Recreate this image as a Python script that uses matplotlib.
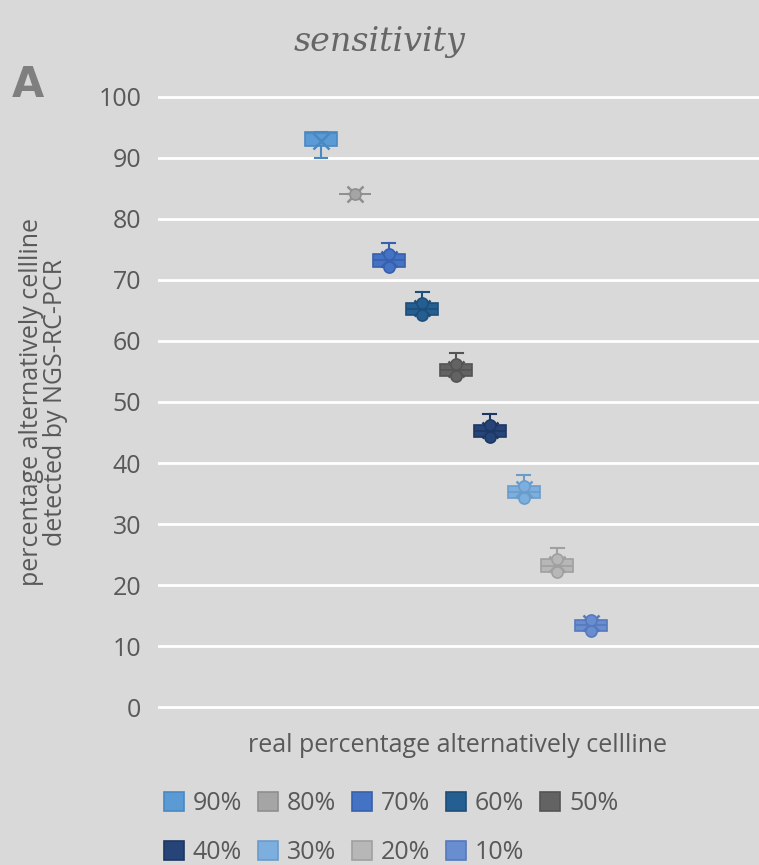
import numpy as np
import matplotlib.pyplot as plt
from matplotlib.patches import Patch

# series (real percentage) and box statistics
labels = ['90%', '80%', '70%', '60%', '50%', '40%', '30%', '20%', '10%']
colors = ['#5b9bd5', '#a5a5a5', '#4472c4', '#255e91', '#636363',
          '#264478', '#7cafdd', '#b7b7b7', '#698ed0']
edges = ['#4a88c2', '#8f8f8f', '#3760ad', '#1d4e7b', '#545454',
         '#1c3763', '#6a9ccb', '#a0a0a0', '#5679bd']
whislo = [90.0, 84.0, 72.1, 64.2, 54.2, 44.2, 34.2, 22.2, 12.4]
q1 = [92.0, 84.0, 72.1, 64.2, 54.2, 44.2, 34.2, 22.2, 12.4]
med = [94.1, 84.0, 73.2, 65.2, 55.2, 45.2, 35.2, 23.2, 13.4]
q3 = [94.2, 84.0, 74.2, 66.3, 56.3, 46.3, 36.3, 24.2, 14.3]
whishi = [94.2, 84.0, 76.1, 68.1, 58.1, 48.1, 38.1, 26.1, 14.3]
means = [92.8, 84.0, 73.4, 65.4, 55.4, 45.4, 35.8, 23.4, 13.8]
points = [[], [84.0], [72.1, 74.2], [64.2, 66.3], [54.2, 56.3],
          [44.2, 46.3], [34.2, 36.3], [22.2, 24.2], [12.4, 14.3]]

plt.rcParams['font.family'] = ['Open Sans', 'DejaVu Sans']
grey = '#595959'
bg = '#d9d9d9'

fig = plt.figure(figsize=(7.59, 8.65), dpi=100, facecolor=bg)
ax = fig.add_axes([158 / 759, 1 - 709 / 865, 1 - 158 / 759, (709 - 95) / 865])
ax.set_facecolor(bg)

pos = np.arange(1, len(labels) + 1)
for i in range(len(labels)):
    st = [dict(whislo=whislo[i], q1=q1[i], med=med[i], q3=q3[i],
               whishi=whishi[i], mean=means[i], fliers=[])]
    ax.bxp(st, positions=[pos[i]], widths=0.95, patch_artist=True,
           showmeans=True, showfliers=False,
           boxprops=dict(facecolor=colors[i], edgecolor=edges[i], linewidth=1.2),
           medianprops=dict(color=edges[i], linewidth=1.2),
           whiskerprops=dict(color=edges[i], linewidth=1.5),
           capprops=dict(color=edges[i], linewidth=1.5),
           capwidths=0.38,
           meanprops=dict(marker='x', markeredgecolor=edges[i],
                          markersize=11, markeredgewidth=1.8),
           zorder=3)
    if points[i]:
        ax.plot([pos[i]] * len(points[i]), points[i], 'o', color=colors[i],
                markeredgecolor=edges[i], markersize=8, markeredgewidth=1.2,
                zorder=4)

ax.set_xlim(1 - 4.83, 1 - 4.83 + 17.8)
ax.set_yticks(range(0, 101, 10))
ax.set_xticks([])
ax.grid(axis='y', color='white', linewidth=2)
ax.set_axisbelow(True)
for s in ax.spines.values():
    s.set_visible(False)
ax.tick_params(axis='y', length=0, labelsize=18, colors=grey, pad=12)
ax.set_ylim(-0.3, 100.3)

fig.text(0.057, 1 - 402 / 865,
         'percentage alternatively cellline\ndetected by NGS-RC-PCR',
         rotation=90, ha='center', va='center', fontsize=18, color=grey,
         linespacing=0.95)
fig.text(458 / 759, 1 - 745 / 865, 'real percentage alternatively cellline',
         ha='center', va='center', fontsize=18, color=grey)
fig.text(380 / 759, 1 - 42 / 865, 'sensitivity', ha='center', va='center',
         fontsize=24, color='#666666', fontstyle='italic', fontweight='light',
         family=['DejaVu Serif'])
fig.text(28 / 759, 1 - 85 / 865, 'A', ha='center', va='center', fontsize=30,
         color='#7f7f7f', fontweight='bold',
         family=['Liberation Sans Narrow', 'DejaVu Sans'])

handles = [Patch(facecolor=c, edgecolor=e, linewidth=1.2)
           for c, e in zip(colors, edges)]
order = [0, 5, 1, 6, 2, 7, 3, 8, 4]
leg = fig.legend([handles[k] for k in order], [labels[k] for k in order],
                 ncol=5, loc='upper left', bbox_to_anchor=(164 / 759, 1 - 791 / 865),
                 frameon=False, fontsize=18, labelcolor=grey,
                 handlelength=0.8, handleheight=0.8, handletextpad=0.35,
                 columnspacing=0.64, labelspacing=0.97, borderaxespad=0,
                 borderpad=0)

fig.savefig('out.png', dpi=100, facecolor=bg)
